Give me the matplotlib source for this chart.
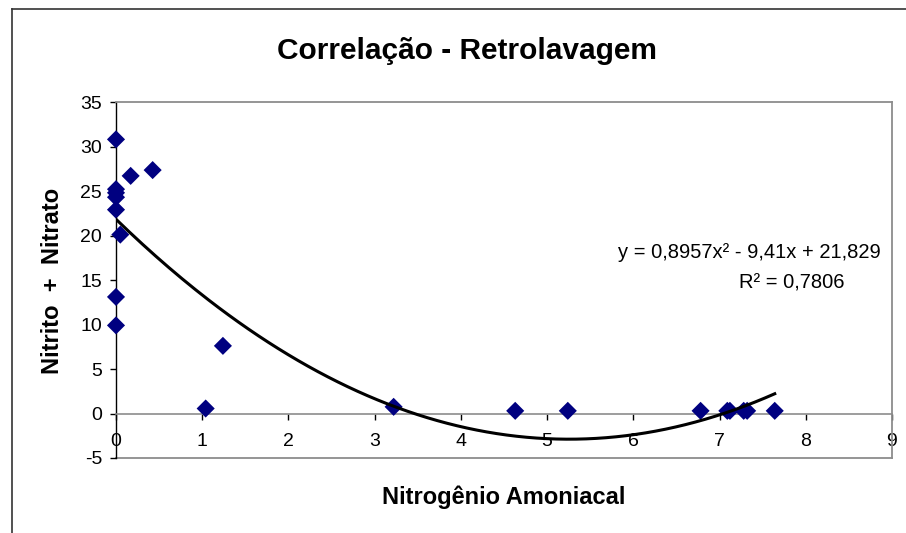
import matplotlib
matplotlib.use('Agg')
import matplotlib.pyplot as plt
import numpy as np
from matplotlib.lines import Line2D

plt.rcParams['font.family'] = ['Liberation Sans', 'DejaVu Sans']
plt.rcParams['axes.unicode_minus'] = False

# dados
amoniacal = [0, 0.17, 0.425, 0, 0, 0, 0, 0.05, 0, 0, 1.24, 1.04,
             3.22, 4.63, 5.24, 6.78, 7.09, 7.12, 7.28, 7.32, 7.64]
nitrito_nitrato = [30.8, 26.7, 27.35, 25.2, 24.8, 24.3, 22.9, 20.1, 13.1, 9.9, 7.6, 0.56,
                   0.75, 0.3, 0.3, 0.3, 0.3, 0.3, 0.3, 0.3, 0.3]

# linha de tendencia polinomial (coeficientes da equacao)
coef = [0.8957, -9.41, 21.829]
eq_txt = 'y = 0,8957x² - 9,41x + 21,829'
r2_txt = 'R² = 0,7806'

W, H = 906, 533
fig = plt.figure(figsize=(W / 100, H / 100), dpi=100)
ax = fig.add_axes([116 / W, 1 - 458 / H, (892 - 116) / W, (458 - 102) / H])

ax.scatter(amoniacal, nitrito_nitrato, marker='D', s=85, color='#000080',
           edgecolors='none', zorder=3, clip_on=False)

xt = np.linspace(0, max(amoniacal), 200)
ax.plot(xt, np.polyval(coef, xt), color='black', lw=2.2, zorder=4)

ax.set_xlim(0, 9)
ax.set_ylim(-5, 35)
ax.set_xticks(range(0, 10))
ax.set_yticks(range(-5, 36, 5))

cinza = '#8c8c8c'
for s in ['top', 'right']:
    ax.spines[s].set_color(cinza)
    ax.spines[s].set_linewidth(1.3)
ax.spines['bottom'].set_position(('data', 0))
ax.spines['bottom'].set_color(cinza)
ax.spines['bottom'].set_linewidth(1.2)
ax.spines['left'].set_color('black')
ax.spines['left'].set_linewidth(1.0)
ax.axhline(-5, color=cinza, lw=1.3, clip_on=False, zorder=0)

ax.tick_params(axis='x', direction='out', length=4, width=1, color='black',
               labelsize=14, pad=10)
ax.tick_params(axis='y', direction='out', length=4.5, width=1, color='black',
               labelsize=14, pad=5.5)

fig.text(467 / W, 1 - 51 / H, 'Correlação - Retrolavagem', ha='center', va='center',
         fontsize=21.5, fontweight='bold')
fig.text(504 / W, 1 - 497 / H, 'Nitrogênio Amoniacal', ha='center', va='center',
         fontsize=17, fontweight='bold')
fig.text(53 / W, 1 - 281 / H, 'Nitrito  +  Nitrato', ha='center', va='center',
         rotation=90, fontsize=17, fontweight='bold')

fig.text(749 / W, 1 - 252 / H, eq_txt, ha='center', va='center', fontsize=14.5)
fig.text(792 / W, 1 - 283 / H, r2_txt, ha='center', va='center', fontsize=14.5)

# moldura externa do grafico
fig.add_artist(Line2D([12 / W, 12 / W], [0, 1 - 9 / H], color='#333333', lw=1.2))
fig.add_artist(Line2D([12 / W, 1], [1 - 9 / H, 1 - 9 / H], color='#333333', lw=1.2))

fig.savefig('out.png', dpi=100)
